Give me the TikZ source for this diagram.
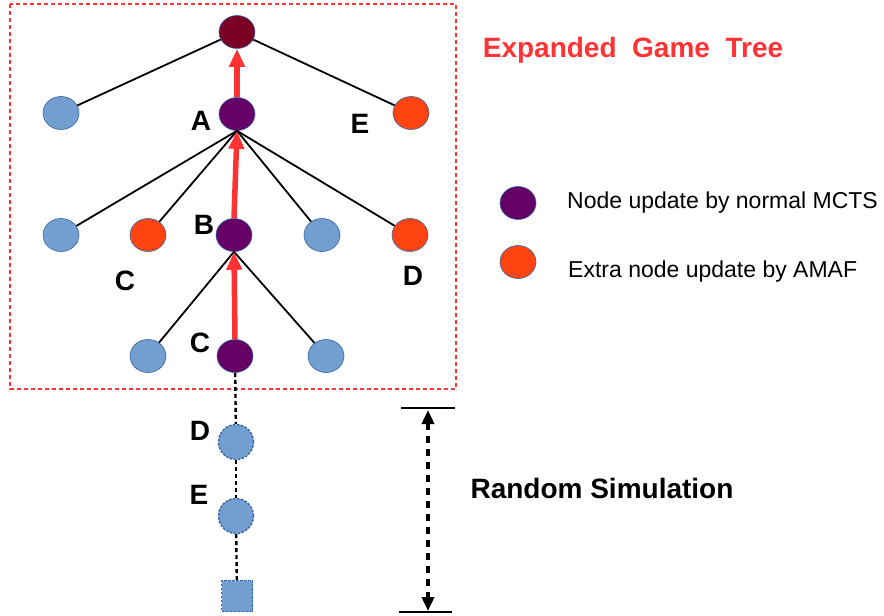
\documentclass[tikz,border=0pt]{standalone}
\usepackage{fontspec}
\setmainfont{Liberation Sans}
\usetikzlibrary{arrows.meta,shapes.geometric}
\definecolor{nblue}{HTML}{729FCF}
\definecolor{nedge}{HTML}{3465A4}
\definecolor{npurple}{HTML}{660066}
\definecolor{norange}{HTML}{FF4411}
\definecolor{nroot}{HTML}{7B0025}
\definecolor{hred}{HTML}{FF3333}
\tikzset{
  tnode/.style={ellipse, draw=nedge, line width=0.6pt, minimum width=36pt, minimum height=33pt, inner sep=0pt},
  blue/.style={tnode, fill=nblue},
  purp/.style={tnode, fill=npurple},
  oran/.style={tnode, fill=norange},
  simnode/.style={circle, draw=nedge, dash pattern=on 2.5pt off 1.5pt, line width=1.4pt, fill=nblue, minimum size=35pt, inner sep=0pt},
  lbl/.style={font=\bfseries\fontsize{28}{32}\selectfont},
  edge/.style={black, line width=1.8pt},
  hot/.style={hred, line width=5.5pt, -{Triangle[length=18pt,width=15pt]}},
  simedge/.style={black, line width=2.4pt, dash pattern=on 4pt off 3pt},
  legtext/.style={anchor=west, font=\fontsize{23}{27}\selectfont, inner sep=0pt},
  simtip/.tip={Triangle[length=14pt,width=12pt]},
}
\begin{document}
\begin{tikzpicture}[x=1pt,y=-1pt]
\useasboundingbox (0,0) rectangle (884,616);
% expanded tree frame
\draw[hred, line width=1.4pt, dash pattern=on 4pt off 3pt] (10,4) rectangle (456,389);
% tree nodes
\node[tnode, fill=nroot] (root) at (237,32) {};
\node[purp] (A) at (237,114) {};
\node[blue] (L1) at (61,113) {};
\node[oran] (E1) at (411,113) {};
\node[blue] (L21) at (61,235) {};
\node[oran] (C2) at (148,235) {};
\node[purp] (B) at (234,235) {};
\node[blue] (L24) at (322,235) {};
\node[oran] (D2) at (410,235) {};
\node[blue] (L31) at (148,356) {};
\node[purp] (C3) at (235,356) {};
\node[blue] (L33) at (326,356) {};
% simulated nodes
\node[simnode] (Ds) at (236,442) {};
\node[simnode] (Es) at (236,516) {};
\node[rectangle, draw=nedge, dash pattern=on 2.5pt off 1.5pt, line width=1.4pt, fill=nblue, minimum size=31pt, inner sep=0pt] (T) at (237,596) {};
% edges
\draw[edge] (root) -- (L1);
\draw[edge] (root) -- (E1);
\foreach \n in {L21,C2,L24,D2} \draw[edge] (A.south) -- (\n);
\draw[edge] (B.south) -- (L31);
\draw[edge] (B.south) -- (L33);
\draw[simedge] (C3) -- (Ds);
\draw[simedge] (Ds) -- (Es);
\draw[simedge] (Es) -- (T);
% backpropagation path
\draw[hot] (A.north) -- (root.south);
\draw[hot] (B.north) -- (A.south);
\draw[hot] (C3.north) -- (B.south);
% labels
\node[lbl] (la) at (201,121) {A};
\node[lbl] (le) at (360,124) {E};
\node[lbl] (lb) at (204,225) {B};
\node[lbl] (lc) at (125,281) {C};
\node[lbl] (ld) at (413,276) {D};
\node[lbl] (lc3) at (200,343) {C};
\node[lbl] (lds) at (200,431) {D};
\node[lbl] (les) at (199,495) {E};
\node[lbl, text=hred] (title) at (633,50) {Expanded\ \ Game\ \ Tree};
\node[lbl] (rs) at (602,488) {Random Simulation};
% legend
\node[purp] (k1) at (518,203) {};
\node[oran] (k2) at (518,262) {};
\node[legtext] (t1) at (567,203) {Node update by normal MCTS};
\node[legtext] (t2) at (568,272) {Extra node update by AMAF};
% simulation depth marker
\coordinate (top) at (428,410);
\coordinate (bot) at (428,611);
\draw[black, line width=1.6pt] (401,408) -- (455,408);
\draw[black, line width=1.6pt] (399,612) -- (452,612);
\draw[black, line width=4pt, dash pattern=on 7pt off 6pt, simtip-simtip] (top) -- (bot);
\end{tikzpicture}
\end{document}
